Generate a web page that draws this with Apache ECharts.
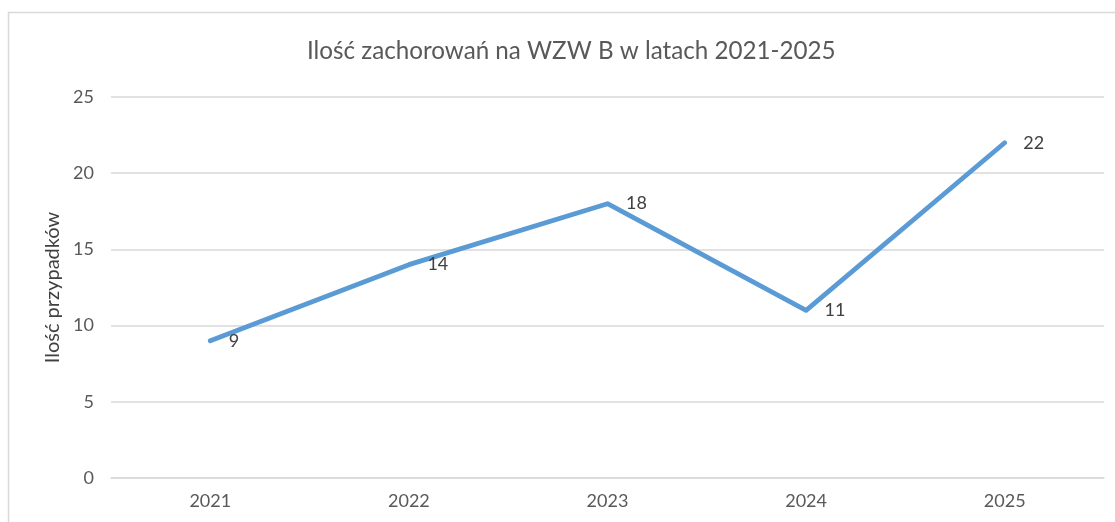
<!DOCTYPE html>
<html>
<head>
<meta charset="utf-8">
<script src="https://cdn.jsdelivr.net/npm/echarts@6/dist/echarts.min.js"></script>
<style>
  html, body { margin: 0; padding: 0; background: #fff; }
  #container { width: 1115px; height: 522px; }
</style>
</head>
<body>
<div id="container"></div>
<script>
// dane z wykresu
var years = ['2021', '2022', '2023', '2024', '2025'];
var cases = [9, 14, 18, 11, 22];
var yTicks = [0, 5, 10, 15, 20, 25];

var dom = document.getElementById('container');
var myChart = echarts.init(dom, null, { renderer: 'canvas' });
var font = 'Lato, "Open Sans", sans-serif';

var option = {
    backgroundColor: '#fff',
    animation: false,
    title: {
        text: 'Ilość zachorowań na WZW B w latach 2021-2025',
        left: 302,
        top: 34,
        textStyle: { fontFamily: font, fontSize: 24.2, fontWeight: 'normal', color: '#595959' }
    },
    graphic: [
        {
            type: 'rect',
            shape: { x: 8.5, y: 12.5, width: 1200, height: 600 },
            style: { fill: 'none', stroke: '#d9d9d9', lineWidth: 1.5 },
            silent: true
        }
    ],
    grid: { left: 111, right: 11, top: 97, bottom: 44 },
    xAxis: {
        type: 'category',
        data: years,
        boundaryGap: true,
        axisLine: { show: true, lineStyle: { color: '#d9d9d9', width: 1.5 } },
        axisTick: { show: false },
        axisLabel: { fontFamily: font, fontSize: 18, color: '#595959', margin: 14 }
    },
    yAxis: {
        type: 'value',
        min: yTicks[0],
        max: yTicks[yTicks.length - 1],
        interval: 5,
        name: 'Ilość przypadków',
        nameLocation: 'middle',
        nameGap: 36,
        nameTextStyle: { fontFamily: font, fontSize: 20, color: '#404040' },
        axisLine: { show: false },
        axisTick: { show: false },
        axisLabel: { fontFamily: font, fontSize: 18, color: '#595959', margin: 17 },
        splitLine: { lineStyle: { color: '#d9d9d9', width: 1.5 } }
    },
    series: [
        {
            type: 'line',
            data: cases,
            symbol: 'circle',
            symbolSize: 1,
            showSymbol: true,
            lineStyle: { color: '#5b9bd5', width: 4.8, cap: 'round', join: 'round' },
            itemStyle: { color: '#5b9bd5' },
            label: {
                show: true,
                position: 'right',
                distance: 18,
                fontFamily: font,
                fontSize: 18,
                color: '#404040'
            }
        }
    ]
};

myChart.setOption(option);
window.addEventListener('resize', myChart.resize);
</script>
</body>
</html>
